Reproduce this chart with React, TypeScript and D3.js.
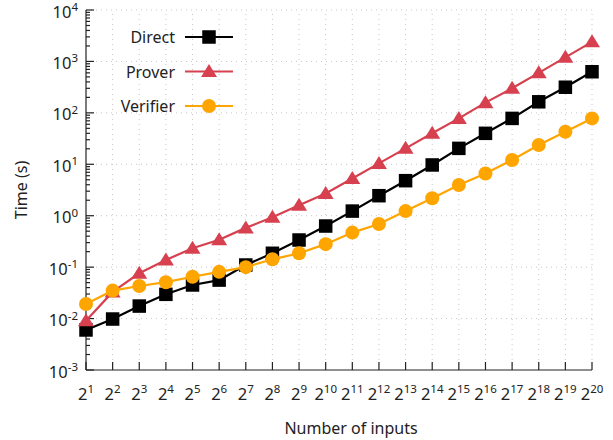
import React, { useRef, useEffect } from "react";
import * as d3 from "d3";

// exponents of 2 on the x axis
const exponents = [1, 2, 3, 4, 5, 6, 7, 8, 9, 10, 11, 12, 13, 14, 15, 16, 17, 18, 19, 20];
// time in seconds
const direct = [0.006, 0.0098, 0.0175, 0.0296, 0.045, 0.056, 0.11, 0.186, 0.337, 0.63, 1.23, 2.45, 4.8, 9.7, 20.4, 40, 78, 164, 315, 630];
const prover = [0.0091, 0.033, 0.076, 0.138, 0.233, 0.34, 0.58, 0.93, 1.6, 2.7, 5.3, 10.4, 20.4, 40, 78, 158, 300, 600, 1200, 2400];
const verifier = [0.0192, 0.035, 0.043, 0.051, 0.065, 0.081, 0.1, 0.142, 0.186, 0.28, 0.47, 0.69, 1.23, 2.18, 3.96, 6.6, 12.1, 23.7, 43, 78];
const yDecades = [-3, -2, -1, 0, 1, 2, 3, 4];
const seriesNames = ["Direct", "Prover", "Verifier"];

const W = 613, H = 440;
const margin = { left: 86, right: 21, top: 10, bottom: 70 };
const font = "'Noto Sans', 'Open Sans', sans-serif";

const App = () => {
  const svgRef = useRef(null);

  useEffect(() => {
    const svg = d3.select(svgRef.current);
    svg.selectAll("*").remove();

    const x = d3.scaleLinear().domain([1, 20]).range([margin.left, W - margin.right]);
    const y = d3.scaleLog().domain([1e-3, 1e4]).range([H - margin.bottom, margin.top]);
    const colors = ["#000000", "#d6404f", "#ffa500"];
    const data = [direct, prover, verifier];

    //grid
    const grid = svg.append("g")
      .attr("stroke", "#c8c8c8")
      .attr("stroke-width", 1)
      .attr("stroke-dasharray", "1,4");
    grid.selectAll("line.gx")
      .data(exponents.slice(1))
      .enter()
      .append("line")
      .attr("x1", d => x(d)).attr("x2", d => x(d))
      .attr("y1", y(1e-3)).attr("y2", y(1e4));
    grid.selectAll("line.gy")
      .data(yDecades.slice(1))
      .enter()
      .append("line")
      .attr("x1", x(1)).attr("x2", x(20))
      .attr("y1", d => y(Math.pow(10, d))).attr("y2", d => y(Math.pow(10, d)));

    //axes
    const ax = svg.append("g").attr("stroke", "#222").attr("stroke-width", 1.2);
    ax.append("line").attr("x1", x(1)).attr("x2", x(20)).attr("y1", y(1e-3)).attr("y2", y(1e-3));
    ax.append("line").attr("x1", x(1)).attr("x2", x(1)).attr("y1", y(1e-3)).attr("y2", y(1e4));
    ax.selectAll("line.tx")
      .data(exponents)
      .enter()
      .append("line")
      .attr("x1", d => x(d)).attr("x2", d => x(d))
      .attr("y1", y(1e-3)).attr("y2", y(1e-3) - 8);
    const yTicks = [];
    yDecades.forEach(d => {
      yTicks.push({ v: Math.pow(10, d), major: true });
      if (d < 4) for (let k = 2; k < 10; k++) yTicks.push({ v: k * Math.pow(10, d), major: false });
    });
    ax.selectAll("line.ty")
      .data(yTicks)
      .enter()
      .append("line")
      .attr("x1", x(1)).attr("x2", d => x(1) + (d.major ? 8 : 4))
      .attr("y1", d => y(d.v)).attr("y2", d => y(d.v));

    //tick labels
    const yl = svg.append("g").attr("font-family", font).attr("fill", "#222");
    yDecades.forEach(d => {
      const t = yl.append("text")
        .attr("x", 78).attr("y", y(Math.pow(10, d)) + 7.5)
        .attr("text-anchor", "end")
        .attr("font-size", 16.5);
      t.append("tspan").text("10");
      t.append("tspan").attr("font-size", 11.5).attr("dy", -6.5).text(String(d));
    });
    exponents.forEach(e => {
      const t = yl.append("text")
        .attr("x", x(e)).attr("y", 400)
        .attr("text-anchor", "middle")
        .attr("font-size", 16.5);
      t.append("tspan").text("2");
      t.append("tspan").attr("font-size", 11.5).attr("dy", -7).text(String(e));
    });
    yl.append("text")
      .attr("x", (x(1) + x(20)) / 2 + 12).attr("y", 434)
      .attr("text-anchor", "middle").attr("font-size", 16)
      .text("Number of inputs");
    yl.append("text")
      .attr("transform", `translate(27,${(y(1e-3) + y(1e4)) / 2}) rotate(-90)`)
      .attr("text-anchor", "middle").attr("font-size", 16)
      .text("Time (s)");

    //markers
    const marker = (g, i, cx, cy) => {
      if (i === 0) {
        g.append("rect").attr("x", cx - 6.75).attr("y", cy - 6.75).attr("width", 13.5).attr("height", 13.5).attr("fill", colors[i]);
      } else if (i === 1) {
        g.append("path").attr("d", `M${cx},${cy - 7.5}L${cx + 8},${cy + 5.5}L${cx - 8},${cy + 5.5}Z`).attr("fill", colors[i]);
      } else {
        g.append("circle").attr("cx", cx).attr("cy", cy).attr("r", 7).attr("fill", colors[i]);
      }
    };

    const line = d3.line().x((d, i) => x(exponents[i])).y(d => y(d));
    data.forEach((s, i) => {
      const g = svg.append("g");
      g.append("path").attr("d", line(s)).attr("fill", "none").attr("stroke", colors[i]).attr("stroke-width", 2.2);
      s.forEach((v, j) => marker(g, i, x(exponents[j]), y(v)));
    });

    //legend
    const lg = svg.append("g").attr("font-family", font);
    seriesNames.forEach((n, i) => {
      const ly = 37 + i * 34.5;
      lg.append("text").attr("x", 175).attr("y", ly + 6).attr("text-anchor", "end").attr("font-size", 16).attr("fill", "#222").text(n);
      lg.append("line").attr("x1", 185).attr("x2", 233).attr("y1", ly).attr("y2", ly).attr("stroke", colors[i]).attr("stroke-width", 2.2);
      marker(lg, i, 209, ly);
    });
  }, []);

  return (
    <svg ref={svgRef} width={W} height={H} style={{ position: "absolute", left: 0, top: 0, background: "#fff" }}>
    </svg>
  );
};

export default App;
